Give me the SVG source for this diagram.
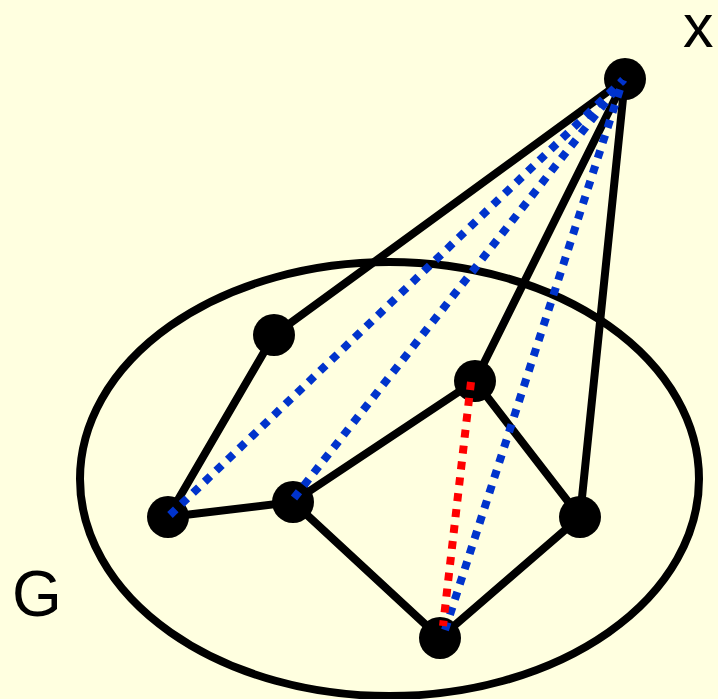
<svg xmlns="http://www.w3.org/2000/svg" width="718" height="699" viewBox="0 0 718 699">
<style>
.edge{stroke:#000;stroke-width:8;fill:none;stroke-linecap:round}
.blue{stroke:#0033cc;stroke-width:8;stroke-dasharray:8 8;fill:none}
.red{stroke:#ff0000;stroke-width:8;stroke-dasharray:8 8;fill:none}
.node{fill:#000}
.lbl{font-family:"Liberation Sans",Arial,sans-serif;font-size:64px;fill:#000}
</style>
<rect width="718" height="699" fill="#ffffe0"/>
<g id="G-set">
<ellipse cx="389.5" cy="479" rx="309.5" ry="217" fill="none" stroke="#000" stroke-width="8"/>
<text class="lbl" x="12" y="616">G</text>
</g>
<g id="x-label"><text class="lbl" x="683" y="47" style="font-size:61px">x</text></g>
<g id="connectors">
<line class="edge" x1="625" y1="79" x2="274" y2="335"/>
<line class="edge" x1="625" y1="79" x2="475" y2="381"/>
<line class="edge" x1="625" y1="79" x2="580" y2="517"/>
<line class="edge" x1="274" y1="335" x2="168" y2="517"/>
<line class="edge" x1="168" y1="517" x2="293" y2="502"/>
<line class="edge" x1="293" y1="502" x2="475" y2="381"/>
<line class="edge" x1="475" y1="381" x2="580" y2="517"/>
<line class="edge" x1="293" y1="502" x2="440" y2="638"/>
<line class="edge" x1="440" y1="638" x2="580" y2="517"/>
</g>
<g id="node-x"><circle class="node" cx="625" cy="79" r="21"/></g>
<g id="node-a"><circle class="node" cx="274" cy="335" r="21"/></g>
<g id="node-b"><circle class="node" cx="168" cy="517" r="21"/></g>
<g id="node-c"><circle class="node" cx="293" cy="502" r="21"/></g>
<g id="node-d"><circle class="node" cx="475" cy="381" r="21"/></g>
<g id="node-e"><circle class="node" cx="580" cy="517" r="21"/></g>
<g id="node-f"><circle class="node" cx="440" cy="638" r="21"/></g>
<g id="dotted-connectors">
<line class="blue" x1="170" y1="515" x2="623" y2="80"/>
<line class="blue" x1="294" y1="498" x2="623" y2="80"/>
<line class="blue" x1="445" y1="630" x2="623" y2="80"/>
<line class="red" x1="471" y1="382" x2="443" y2="626"/>
</g>
</svg>
